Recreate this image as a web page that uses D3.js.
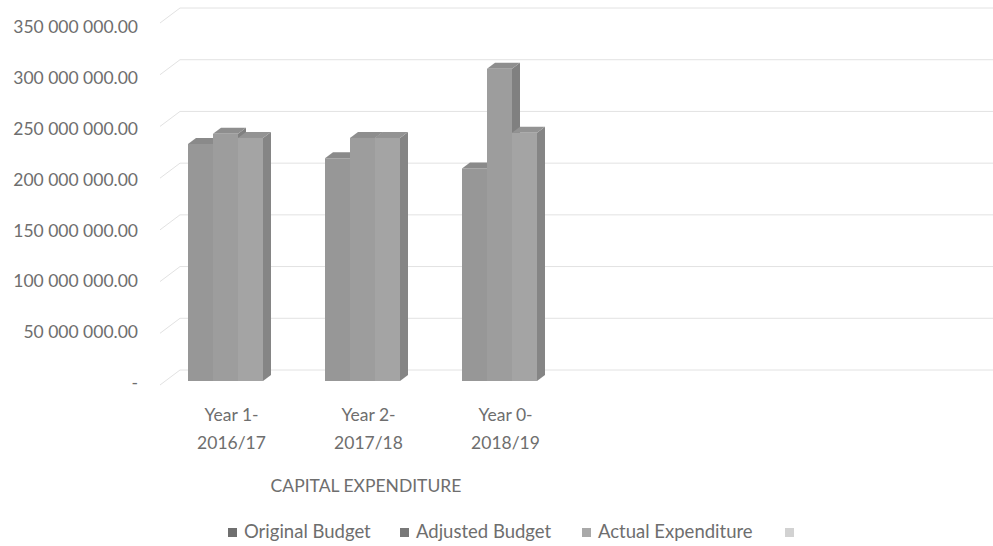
<!DOCTYPE html>
<html><head><meta charset="utf-8">
<script src="https://cdnjs.cloudflare.com/ajax/libs/d3/7.8.5/d3.min.js"></script>
<style>
html,body{margin:0;padding:0;background:#fff;}
svg text{font-family:Lato,"Open Sans",sans-serif;fill:#6e6e6e;}
</style></head>
<body><svg id="c" width="993" height="546"></svg>
<script>
// ---- data ----
const categories = ["Year 1-|2016/17", "Year 2-|2017/18", "Year 0-|2018/19", "", "", ""];
const seriesNames = ["Original Budget", "Adjusted Budget", "Actual Expenditure", ""];
const originalBudget = [233000000, 219000000, 209000000];
const adjustedBudget = [243000000, 239000000, 307000000];
const actualExpenditure = [239000000, 239000000, 244000000];
const yTicks = [0, 50000000, 100000000, 150000000, 200000000, 250000000, 300000000, 350000000];
const axisTitle = "CAPITAL EXPENDITURE";

const series = [originalBudget, adjustedBudget, actualExpenditure];
const frontColors = ["#979797", "#9d9d9d", "#a4a4a4"];
const sideColors = ["#7c7c7c", "#808080", "#858585"];
const topColors = ["#8a8a8a", "#8e8e8e", "#939393"];
const legendColors = ["#6f6f6f", "#787878", "#a9a9a9", "#d2d2d2"];

const svg = d3.select("#c");

// scales
const x = d3.scaleBand().domain(d3.range(categories.length)).range([157, 979]).paddingInner(0).paddingOuter(0);
const yFront = d3.scaleLinear().domain([0, 350000000]).range([383, 27]);
const yBar = d3.scaleLinear().domain([0, 350000000]).range([381, 25]);
const yBack = d3.scaleLinear().domain([0, 350000000]).range([370, 8]);
const ySide = d3.scaleLinear().domain([0, 350000000]).range([385, 23]);
const backX0 = 180, backX1 = 993, sideX0 = 160;
const depthX = 8, depthY = -6;

// gridlines: back wall + side wall
const grid = svg.append("g");
yTicks.forEach(v => {
  grid.append("line").attr("x1", backX0).attr("x2", backX1)
    .attr("y1", yBack(v)).attr("y2", yBack(v))
    .attr("stroke", "#e2e2e2").attr("stroke-width", 1);
  grid.append("line").attr("x1", sideX0).attr("x2", backX0)
    .attr("y1", ySide(v)).attr("y2", yBack(v))
    .attr("stroke", "#e2e2e2").attr("stroke-width", 1);
});

// y axis labels
const fmt = v => v === 0 ? "-" : d3.format(",.2f")(v).replace(/,/g, " ");
svg.append("g").selectAll("text").data(yTicks).join("text")
  .attr("x", 138).attr("y", d => yFront(d)).attr("dy", "0.35em")
  .attr("text-anchor", "end").attr("font-size", 17.5)
  .text(fmt);

// bars (3D)
const groupW = 75;
const barW = groupW / series.length;
const bars = svg.append("g");
originalBudget.forEach((_, ci) => {
  const gx = x(ci) + x.bandwidth() / 2 - groupW / 2;
  series.forEach((s, si) => {
    const v = s[ci];
    const x0 = gx + si * barW, x1 = x0 + barW;
    const yt = yBar(v), yb = yBar(0);
    bars.append("path").attr("d", `M${x1},${yt}L${x1 + depthX},${yt + depthY}L${x1 + depthX},${yb + depthY}L${x1},${yb}Z`)
      .attr("fill", sideColors[si]);
    bars.append("path").attr("d", `M${x0},${yt}L${x0 + depthX},${yt + depthY}L${x1 + depthX},${yt + depthY}L${x1},${yt}Z`)
      .attr("fill", topColors[si]);
    bars.append("rect").attr("x", x0).attr("y", yt).attr("width", barW).attr("height", yb - yt)
      .attr("fill", frontColors[si]);
  });
});

// category labels
const catG = svg.append("g");
categories.forEach((c, i) => {
  if (!c) return;
  const parts = c.split("|");
  const t = catG.append("text").attr("text-anchor", "middle").attr("font-size", 17.5);
  parts.forEach((p, k) => t.append("tspan").attr("x", x(i) + x.bandwidth() / 2 + 6).attr("y", 421 + k * 28).text(p));
});

// axis title
svg.append("text").attr("x", 366).attr("y", 492).attr("text-anchor", "middle")
  .attr("font-size", 17.5).text(axisTitle);

// legend
const legendX = [228, 400, 582, 785];
const lg = svg.append("g");
seriesNames.forEach((n, i) => {
  lg.append("rect").attr("x", legendX[i]).attr("y", 528).attr("width", 9).attr("height", 9).attr("fill", legendColors[i]);
  lg.append("text").attr("x", legendX[i] + 16).attr("y", 538).attr("font-size", 18.5).text(n);
});
</script></body></html>
